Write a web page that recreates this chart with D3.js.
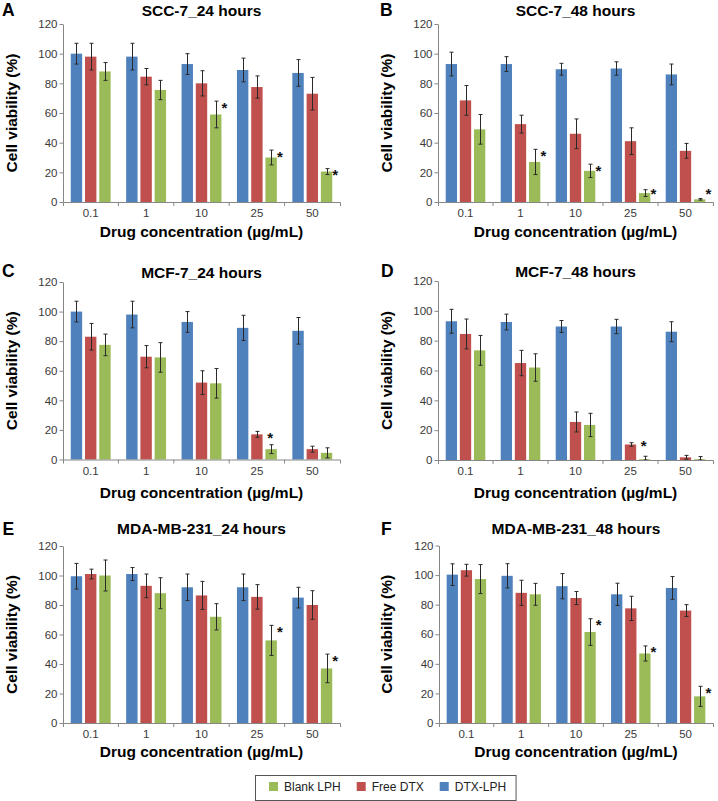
<!DOCTYPE html>
<html>
<head>
<meta charset="utf-8">
<script src="https://cdn.jsdelivr.net/npm/d3@7"></script>
<style>
body { margin: 0; background: #fff; }
svg { display: block; font-family: "Liberation Sans", Arial, sans-serif; }
</style>
</head>
<body>
<svg id="fig" width="718" height="801"></svg>
<script>
// categories and series
var concentrations = ["0.1", "1", "10", "25", "50"]
var seriesNames = ["DTX-LPH", "Free DTX", "Blank LPH"]
var seriesColors = ["#4F81BD", "#C0504D", "#9BBB59"]
var legendOrder = [2, 1, 0]
var yTicks = [0, 20, 40, 60, 80, 100, 120]

// mean and error, rows: DTX-LPH, Free DTX, Blank LPH
var scc7_24h = [[100, 98, 93, 89, 87], [98, 84.5, 80, 77.5, 73], [88, 75.5, 59, 30, 20.5]]
var scc7_24h_err = [[7, 9, 7, 8, 9], [9, 5.5, 8.5, 7.5, 11], [6, 6.5, 9, 5, 2]]
var scc7_24h_star = [0, 0, 1, 1, 1]

var scc7_48h = [[93, 93, 89.5, 90, 86], [68.5, 52.5, 46, 41, 34.5], [49, 27, 21, 6, 1.8]]
var scc7_48h_err = [[8, 5, 4, 4.5, 7], [10, 6, 10, 9, 5], [10, 8.5, 4.5, 2.3, 0.5]]
var scc7_48h_star = [0, 1, 1, 1, 1]

var mcf7_24h = [[100, 98, 93, 89, 87], [83, 69.5, 52, 17, 7], [77.5, 69, 51.5, 7, 4.5]]
var mcf7_24h_err = [[7, 9, 7, 8.5, 9], [9, 7.5, 8, 2, 2], [7.3, 10, 10, 3, 3.4]]
var mcf7_24h_star = [0, 0, 0, 1, 0]

var mcf7_48h = [[93, 92.5, 89.5, 89.5, 86], [84.5, 65, 25.5, 10.4, 1.8], [73.5, 62, 23.5, 0.5, 0.5]]
var mcf7_48h_err = [[8, 5.3, 4, 4.8, 6.7], [10, 8.5, 6.7, 1.2, 1.3], [10, 9.2, 7.8, 2, 1.8]]
var mcf7_48h_star = [0, 0, 0, 1, 0]

var mda_24h = [[99.5, 101, 92, 92, 85], [101, 93, 86.5, 85.5, 80], [100, 88, 72, 56, 37]]
var mda_24h_err = [[8.7, 4.4, 9, 9, 7], [3.3, 8, 9.5, 8.3, 9.7], [10.5, 10.5, 8.9, 10.2, 9.7]]
var mda_24h_star = [0, 0, 0, 1, 1]

var mda_48h = [[100.3, 99.5, 92.5, 87, 91.3], [103.3, 88, 84.5, 77.5, 76], [97.3, 87, 61.5, 47, 18]]
var mda_48h_err = [[7.3, 8.2, 8.5, 7.5, 7.7], [4, 8.5, 4.4, 8.2, 4], [9.8, 7.4, 9, 5.1, 6.8]]
var mda_48h_star = [0, 0, 1, 1, 1]

// panel layout
var panels = [
	{ letter: "A", title: "SCC-7_24 hours", mean: scc7_24h, err: scc7_24h_err, star: scc7_24h_star,
	  x0: 63, x1: 340, top: 24, bottom: 202, lx: 2, ly: 15.5, titleY: 15.5, xTitleY: 236.5, yTitleX: 16.5, starAbove: false },
	{ letter: "B", title: "SCC-7_48 hours", mean: scc7_48h, err: scc7_48h_err, star: scc7_48h_star,
	  x0: 438, x1: 713, top: 24, bottom: 202, lx: 380, ly: 15.5, titleY: 15.5, xTitleY: 236.5, yTitleX: 392, starAbove: false },
	{ letter: "C", title: "MCF-7_24 hours", mean: mcf7_24h, err: mcf7_24h_err, star: mcf7_24h_star,
	  x0: 63, x1: 340, top: 282, bottom: 459.5, lx: 2, ly: 277, titleY: 278, xTitleY: 497.5, yTitleX: 16.5, starAbove: true },
	{ letter: "D", title: "MCF-7_48 hours", mean: mcf7_48h, err: mcf7_48h_err, star: mcf7_48h_star,
	  x0: 438, x1: 713, top: 281, bottom: 460, lx: 381, ly: 276.5, titleY: 277, xTitleY: 497.5, yTitleX: 392, starAbove: true },
	{ letter: "E", title: "MDA-MB-231_24 hours", mean: mda_24h, err: mda_24h_err, star: mda_24h_star,
	  x0: 63, x1: 340, top: 546, bottom: 723, lx: 2.5, ly: 535, titleY: 534, xTitleY: 757, yTitleX: 16.5, starAbove: false },
	{ letter: "F", title: "MDA-MB-231_48 hours", mean: mda_48h, err: mda_48h_err, star: mda_48h_star,
	  x0: 439, x1: 713, top: 545.5, bottom: 723, lx: 381, ly: 534.5, titleY: 534, xTitleY: 757, yTitleX: 392, starAbove: false }
]

var svg = d3.select("#fig")

panels.forEach(function(p) {
	var g = svg.append("g")

	var x = d3.scaleBand().domain(concentrations).range([p.x0, p.x1])
	var bw = x.bandwidth()
	var xs = d3.scaleBand().domain(d3.range(seriesNames.length))
		.range([bw * 0.14, bw * 0.86]).paddingInner(0.2)
	var y = d3.scaleLinear().domain([0, 120]).range([p.bottom, p.top])

	// bars
	p.mean.forEach(function(row, s) {
		g.selectAll(null)
			.data(row)
			.enter()
			.append("rect")
			.attr("x", function(d, i) { return x(concentrations[i]) + xs(s) })
			.attr("y", function(d) { return y(d) })
			.attr("width", xs.bandwidth())
			.attr("height", function(d) { return y(0) - y(d) })
			.attr("fill", seriesColors[s])
	})

	// error bars
	p.mean.forEach(function(row, s) {
		var eg = g.selectAll(null)
			.data(row)
			.enter()
			.append("g")
			.attr("stroke", "#2a2a2a")
			.attr("stroke-width", 1)
		var cx = function(d, i) { return Math.round(x(concentrations[i]) + xs(s) + xs.bandwidth() / 2) + 0.5 }
		var hi = function(d, i) { return y(d + p.err[s][i]) }
		var lo = function(d, i) { return y(Math.max(0, d - p.err[s][i])) }
		eg.append("line")
			.attr("x1", cx).attr("x2", cx)
			.attr("y1", hi).attr("y2", lo)
		eg.append("line")
			.attr("x1", function(d, i) { return cx(d, i) - 2 })
			.attr("x2", function(d, i) { return cx(d, i) + 2 })
			.attr("y1", hi).attr("y2", hi)
		eg.append("line")
			.attr("x1", function(d, i) { return cx(d, i) - 2 })
			.attr("x2", function(d, i) { return cx(d, i) + 2 })
			.attr("y1", lo).attr("y2", lo)
	})

	// significance stars on Blank LPH
	var gs = seriesNames.length - 1
	g.selectAll(null)
		.data(p.star)
		.enter()
		.append("text")
		.attr("x", function(d, i) {
			var left = x(concentrations[i]) + xs(gs)
			return p.starAbove ? left + xs.bandwidth() / 2 - 1 : left + xs.bandwidth() + 3
		})
		.attr("y", function(d, i) {
			var top = y(p.mean[gs][i] + p.err[gs][i])
			var c = p.starAbove ? Math.min(top - 10, y(0) - 18) : Math.min(top + 3, y(0) - 12)
			return c + 8.5
		})
		.attr("text-anchor", "middle")
		.style("font-size", "15px")
		.style("font-weight", "bold")
		.attr("fill", "#111")
		.text(function(d) { return d ? "*" : "" })

	// y axis
	var yAxis = g.append("g")
		.attr("transform", "translate(" + p.x0 + ",0)")
		.call(d3.axisLeft(y).tickValues(yTicks).tickSizeInner(3.5).tickSizeOuter(0).tickPadding(2))
	yAxis.select(".domain").attr("stroke", "#868686")
	yAxis.selectAll(".tick line").attr("stroke", "#868686")
	yAxis.selectAll("text").attr("fill", "#3a3a3a").style("font-size", "11.5px").attr("font-family", null)

	// x axis
	var xAxis = g.append("g")
		.attr("transform", "translate(0," + p.bottom + ")")
		.call(d3.axisBottom(x).tickSizeInner(0).tickSizeOuter(4).tickPadding(7))
	xAxis.select(".domain").attr("stroke", "#868686")
	xAxis.selectAll("text").attr("fill", "#3a3a3a").style("font-size", "11.5px").attr("font-family", null)
	xAxis.selectAll(null)
		.data(concentrations.slice(1))
		.enter()
		.append("line")
		.attr("x1", function(d) { return x(d) })
		.attr("x2", function(d) { return x(d) })
		.attr("y1", 0)
		.attr("y2", 4)
		.attr("stroke", "#868686")

	// labels
	g.append("text")
		.attr("x", p.lx).attr("y", p.ly)
		.style("font-size", "17.5px").style("font-weight", "bold")
		.text(p.letter)

	g.append("text")
		.attr("x", (p.x0 + p.x1) / 2).attr("y", p.titleY)
		.attr("text-anchor", "middle")
		.style("font-size", "15.5px").style("font-weight", "bold")
		.text(p.title)

	g.append("text")
		.attr("x", (p.x0 + p.x1) / 2).attr("y", p.xTitleY)
		.attr("text-anchor", "middle")
		.style("font-size", "15.5px").style("font-weight", "bold")
		.text("Drug concentration (µg/mL)")

	g.append("text")
		.attr("transform", "translate(" + p.yTitleX + "," + (p.top + p.bottom) / 2 + ") rotate(-90)")
		.attr("text-anchor", "middle")
		.style("font-size", "15.5px").style("font-weight", "bold")
		.text("Cell viability (%)")
})

// legend
var legend = svg.append("g")
var box = legend.append("rect")
	.attr("x", 255.5).attr("y", 775.5).attr("height", 25)
	.attr("fill", "#fff").attr("stroke", "#555")
var lx = 269
legendOrder.forEach(function(s) {
	legend.append("rect")
		.attr("x", lx).attr("y", 782).attr("width", 9).attr("height", 9)
		.attr("fill", seriesColors[s])
	var t = legend.append("text")
		.attr("x", lx + 15).attr("y", 791)
		.style("font-size", "12px").attr("fill", "#222")
		.text(seriesNames[s])
	lx += 15 + t.node().getComputedTextLength() + 16
})
box.attr("width", lx - 16 + 10 - 255.5)
</script>
</body>
</html>
